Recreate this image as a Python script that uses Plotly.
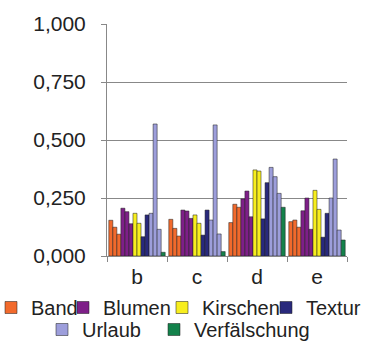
import plotly.graph_objects as go

categories = ["b", "c", "d", "e"]

band = [[0.154, 0.158, 0.144, 0.148],
        [0.124, 0.119, 0.223, 0.155],
        [0.094, 0.086, 0.210, 0.124]]
blumen = [[0.206, 0.198, 0.246, 0.195],
          [0.191, 0.194, 0.280, 0.250],
          [0.139, 0.162, 0.169, 0.115]]
kirschen = [[0.184, 0.177, 0.371, 0.283],
            [0.141, 0.141, 0.366, 0.201]]
textur = [[0.083, 0.090, 0.160, 0.081],
          [0.177, 0.198, 0.316, 0.184]]
urlaub = [[0.184, 0.155, 0.382, 0.250],
          [0.569, 0.565, 0.342, 0.418],
          [0.115, 0.095, 0.270, 0.112]]
verfaelschung = [[0.016, 0.019, 0.210, 0.069]]

y_ticks = [0, 0.25, 0.5, 0.75, 1.0]

series = [
    ("Band", band, "#F26A2C", "legend"),
    ("Blumen", blumen, "#7E1F88", "legend2"),
    ("Kirschen", kirschen, "#F7EE1F", "legend3"),
    ("Textur", textur, "#29297C", "legend4"),
    ("Urlaub", urlaub, "#9D9EDB", "legend5"),
    ("Verfälschung", verfaelschung, "#13824B", "legend6"),
]

fig = go.Figure()
for name, rows, color, lg in series:
    for i, vals in enumerate(rows):
        fig.add_trace(go.Bar(
            x=categories, y=vals, name=name,
            marker=dict(color=color, line=dict(color="rgba(30,30,30,0.65)", width=0.8)),
            legendgroup=name, showlegend=(i == 0), legend=lg,
        ))

FONT = "Liberation Sans, Arial, sans-serif"
L, R, T, B = 107, 18, 24, 86
W, H = 365, 342
PW, PH = W - L - R, H - T - B

def lx(px):
    return (px - L) / PW

def ly(px):
    return (T + PH - px) / PH

leg_common = dict(orientation="h", xanchor="left", yanchor="top",
                  bgcolor="rgba(0,0,0,0)", font=dict(family=FONT, size=20, color="#222"),
                  itemwidth=30)
row1, row2 = 288, 310
legend_pos = {
    "legend": (-9, row1),
    "legend2": (63, row1),
    "legend3": (162, row1),
    "legend4": (266, row1),
    "legend5": (42, row2),
    "legend6": (154, row2),
}
legends = {}
for k, (px, py) in legend_pos.items():
    legends[k] = dict(leg_common, x=lx(px), y=ly(py))

fig.update_layout(
    width=W, height=H,
    margin=dict(l=L, r=R, t=T, b=B, autoexpand=False),
    paper_bgcolor="white", plot_bgcolor="white",
    barmode="group", bargap=0.06, bargroupgap=0,
    separators=",.",
    font=dict(family=FONT, color="#222"),
    **legends,
)
fig.update_xaxes(
    type="category", tickson="boundaries", ticks="outside", ticklen=5,
    tickcolor="#888", showline=True, linecolor="#888", linewidth=1,
    showgrid=False, tickfont=dict(family=FONT, size=21, color="#222"),
    ticklabelstandoff=2,
)
fig.update_yaxes(
    range=[0, 1], tickvals=y_ticks, tickformat=".3f",
    ticks="outside", ticklen=5, tickcolor="#888",
    showline=True, linecolor="#888", linewidth=1,
    showgrid=True, gridcolor="#888", gridwidth=1, zeroline=False,
    tickfont=dict(family=FONT, size=21, color="#222"),
    ticklabelstandoff=11,
)

fig.write_html("out.html", config={"displayModeBar": False},
               post_script="document.body.style.margin='0';")
